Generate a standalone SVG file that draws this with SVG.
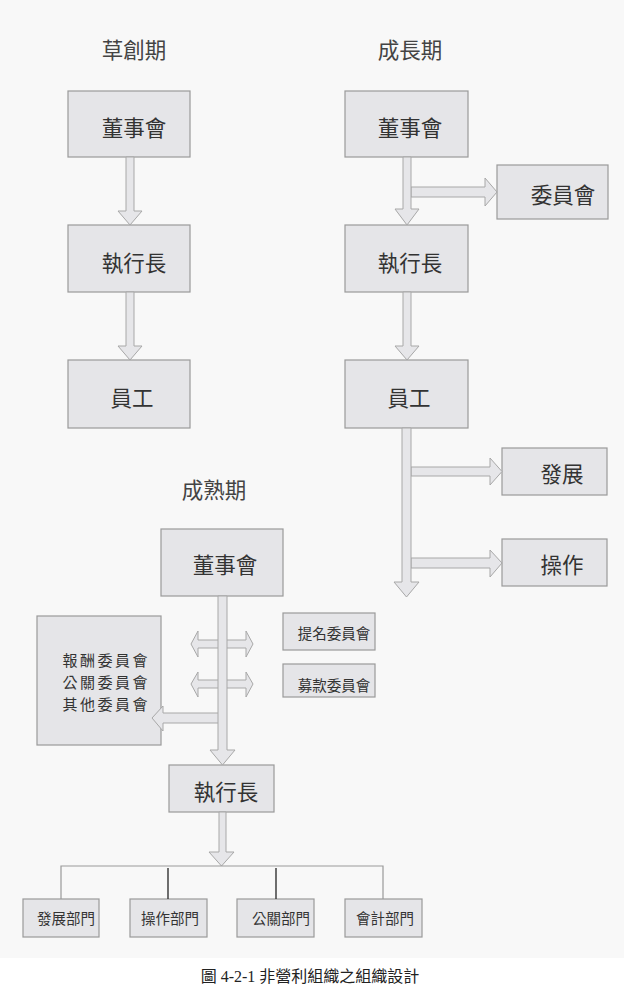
<svg xmlns="http://www.w3.org/2000/svg" width="624" height="996" viewBox="0 0 624 996">
<style>
.bx{fill:#e5e5e8;stroke:#9a9a9a;stroke-width:1.2}
.ar{fill:#e6e6e9;stroke:#a8a8a8;stroke-width:1}
.t{font-family:"Noto Sans CJK TC","Noto Sans CJK SC",sans-serif;fill:#333;text-anchor:middle;dominant-baseline:central}
.big{font-size:21.5px}
.mid{font-size:15px}
.sm{font-size:14.5px}
.ttl{font-size:21.5px;fill:#444}
.ln{stroke:#9a9a9a;stroke-width:1.2;fill:none}
.dk{stroke:#333;stroke-width:1.4;fill:none}
</style>
<rect x="0" y="0" width="624" height="996" fill="#ffffff"/>
<rect x="0" y="0" width="624" height="958" fill="#f8f8f8"/>

<g id="title-1"><text class="t ttl" x="134" y="48">草創期</text></g>
<g id="title-2"><text class="t ttl" x="410" y="48">成長期</text></g>
<g id="title-3"><text class="t ttl" x="214" y="488">成熟期</text></g>

<g id="s1-board"><rect class="bx" x="68" y="91" width="122" height="66"/><text class="t big" x="134" y="126">董事會</text></g>
<g id="s1-ceo"><rect class="bx" x="68" y="225" width="122" height="67"/><text class="t big" x="134" y="261">執行長</text></g>
<g id="s1-staff"><rect class="bx" x="68" y="360" width="122" height="68"/><text class="t big" x="132" y="396">員工</text></g>

<g id="s2-board"><rect class="bx" x="345" y="91" width="123" height="66"/><text class="t big" x="410" y="126">董事會</text></g>
<g id="s2-committee"><rect class="bx" x="497" y="165" width="111" height="54"/><text class="t big" x="563" y="193">委員會</text></g>
<g id="s2-ceo"><rect class="bx" x="345" y="225" width="123" height="67"/><text class="t big" x="410" y="261">執行長</text></g>
<g id="s2-staff"><rect class="bx" x="345" y="360" width="123" height="68"/><text class="t big" x="409" y="396">員工</text></g>
<g id="s2-dev"><rect class="bx" x="502" y="448" width="105" height="47"/><text class="t big" x="562" y="472">發展</text></g>
<g id="s2-ops"><rect class="bx" x="502" y="539" width="105" height="47"/><text class="t big" x="562" y="563">操作</text></g>

<g id="s3-board"><rect class="bx" x="161" y="529" width="122" height="67"/><text class="t big" x="225" y="563">董事會</text></g>
<g id="s3-committees"><rect class="bx" x="37" y="616" width="124" height="129"/>
<text class="t mid" x="105" y="659" textLength="85" lengthAdjust="spacing">報酬委員會</text>
<text class="t mid" x="105" y="681" textLength="85" lengthAdjust="spacing">公關委員會</text>
<text class="t mid" x="105" y="703" textLength="85" lengthAdjust="spacing">其他委員會</text></g>
<g id="s3-nomination"><rect class="bx" x="283" y="613" width="92" height="37"/><text class="t sm" x="334" y="632">提名委員會</text></g>
<g id="s3-fundraising"><rect class="bx" x="283" y="664" width="92" height="33"/><text class="t sm" x="334" y="684">募款委員會</text></g>
<g id="s3-ceo"><rect class="bx" x="169" y="765" width="105" height="47"/><text class="t big" x="226" y="790">執行長</text></g>
<g id="s3-dept-dev"><rect class="bx" x="23" y="899" width="76" height="38"/><text class="t sm" x="66" y="917">發展部門</text></g>
<g id="s3-dept-ops"><rect class="bx" x="130" y="899" width="77" height="38"/><text class="t sm" x="170" y="917">操作部門</text></g>
<g id="s3-dept-pr"><rect class="bx" x="237" y="899" width="77" height="38"/><text class="t sm" x="281" y="917">公關部門</text></g>
<g id="s3-dept-acc"><rect class="bx" x="345" y="899" width="77" height="38"/><text class="t sm" x="385" y="917">會計部門</text></g>

<g id="connectors">
<!-- stage 1 -->
<polygon class="ar" points="126,157 134,157 134,211 142,211 130,225 118,211 126,211"/>
<polygon class="ar" points="126,292 134,292 134,346 142,346 130,360 118,346 126,346"/>
<!-- stage 2 -->
<polygon class="ar" points="411,187 485,187 485,178 497,192 485,206 485,197 411,197"/>
<polygon class="ar" points="403,157 411,157 411,209 419,209 407,225 395,209 403,209"/>
<polygon class="ar" points="403,292 411,292 411,346 419,346 407,360 395,346 403,346"/>
<polygon class="ar" points="411,467 490,467 490,458 502,471.5 490,485 490,476 411,476"/>
<polygon class="ar" points="411,558 490,558 490,550 502,563 490,577 490,568 411,568"/>
<polygon class="ar" points="402,428 411,428 411,582 419,582 406.5,597 394,582 402,582"/>
<!-- stage 3 -->
<polygon class="ar" points="191,644 198,631 198,640 246,640 246,631 253,644 246,657 246,648 198,648 198,657"/>
<polygon class="ar" points="191,684 198,672 198,680 246,680 246,672 253,684 246,697 246,688 198,688 198,697"/>
<polygon class="ar" points="222,713 163,713 163,706 152,718 163,731 163,723 222,723"/>
<polygon class="ar" points="218,596 227,596 227,750 235,750 222.5,765 210,750 218,750"/>
<polygon class="ar" points="219,812 226,812 226,852 234,852 221.5,866 209,852 219,852"/>
<polyline class="ln" points="61,899 61,866 383,866 383,899"/>
<line class="dk" x1="168" y1="868" x2="168" y2="899"/>
<line class="dk" x1="276" y1="868" x2="276" y2="899"/>
</g>

<g id="caption"><text x="310" y="976" text-anchor="middle" dominant-baseline="central" font-family="'Liberation Serif','Noto Sans CJK TC',serif" font-size="16" fill="#222">圖 4-2-1 非營利組織之組織設計</text></g>
</svg>
